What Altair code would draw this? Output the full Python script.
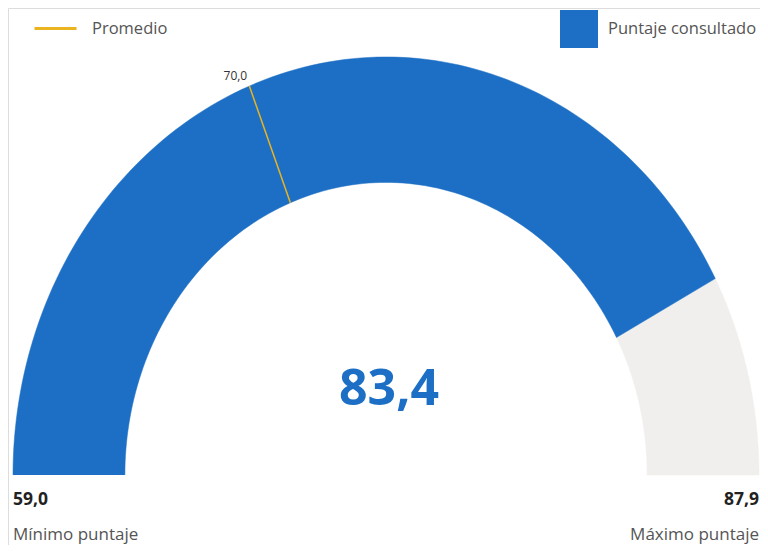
import altair as alt
import pandas as pd

# ---- data ----
MIN_VAL = 59.0
MAX_VAL = 87.9
SCORE = 83.4
AVERAGE = 70.0
SEGMENT_NAMES = ["Puntaje consultado", "Resto"]
SEGMENT_START = [MIN_VAL, SCORE]
SEGMENT_END = [SCORE, MAX_VAL]
AVG_NAME = "Promedio"
MIN_TEXT = "Mínimo puntaje"
MAX_TEXT = "Máximo puntaje"

# ---- style ----
BLUE = "#1C6FC4"
GREY = "#F0EFED"
GOLD = "#E9B420"
FONT = "Open Sans"
INNER = 0.70
N = 120  # steps along each arc edge

def fmt(v):
    return f"{v:.1f}".replace(".", ",")

rows = []
for name, s, e in zip(SEGMENT_NAMES, SEGMENT_START, SEGMENT_END):
    for k in range(2 * N + 2):
        rows.append({"seg": name, "start": s, "end": e, "k": k})
band = pd.DataFrame(rows)

needle = pd.DataFrame({"name": [AVG_NAME, AVG_NAME], "v": [AVERAGE, AVERAGE], "edge": [0, 1]})

XDOM = [-1.0134, 1.00268]
YDOM = [-0.1675, 1.1172]
xs = alt.Scale(domain=XDOM, nice=False, zero=False)
ys = alt.Scale(domain=YDOM, nice=False, zero=False)

ang_expr = f"PI * (1 - (datum.v - {MIN_VAL}) / ({MAX_VAL} - {MIN_VAL}))"

band_base = alt.Chart(band).transform_calculate(
    t=f"datum.k <= {N} ? datum.k / {N} : ({2 * N + 1} - datum.k) / {N}",
    r=f"datum.k <= {N} ? 1 : {INNER}",
).transform_calculate(
    v="datum.start + (datum.end - datum.start) * datum.t"
).transform_calculate(
    ang=ang_expr
).transform_calculate(
    px="datum.r * cos(datum.ang)", py="datum.r * sin(datum.ang)"
)

grey_band = band_base.transform_filter(alt.datum.seg == SEGMENT_NAMES[1]).mark_line(
    filled=True, strokeWidth=0.5
).encode(
    x=alt.X("px:Q", scale=xs, axis=None),
    y=alt.Y("py:Q", scale=ys, axis=None),
    order="k:Q",
    fill=alt.value(GREY),
    stroke=alt.value(GREY),
)

blue_band = band_base.transform_filter(alt.datum.seg == SEGMENT_NAMES[0]).mark_line(
    filled=True, strokeWidth=0.5
).encode(
    x=alt.X("px:Q", scale=xs, axis=None),
    y=alt.Y("py:Q", scale=ys, axis=None),
    order="k:Q",
    fill=alt.Fill(
        "seg:N",
        scale=alt.Scale(domain=[SEGMENT_NAMES[0]], range=[BLUE]),
        legend=alt.Legend(
            title=None, orient="none", legendX=552, legendY=2, padding=0,
            symbolType="square", symbolSize=1444, symbolStrokeWidth=0,
            labelFont=FONT, labelFontSize=16.5, labelColor="#555555", labelOffset=10,
        ),
    ),
    stroke=alt.value(BLUE),
)

needle_base = alt.Chart(needle).transform_calculate(
    ang=ang_expr
).transform_calculate(
    r=f"datum.edge == 1 ? 1 : {INNER}"
).transform_calculate(
    px="datum.r * cos(datum.ang)", py="datum.r * sin(datum.ang)"
)

needle_line = needle_base.mark_line(strokeWidth=1.5).encode(
    x=alt.X("px:Q", scale=xs, axis=None),
    y=alt.Y("py:Q", scale=ys, axis=None),
    order="edge:Q",
    stroke=alt.Stroke(
        "name:N",
        scale=alt.Scale(domain=[AVG_NAME], range=[GOLD]),
        legend=alt.Legend(
            title=None, orient="none", legendX=25, legendY=-2, padding=0,
            symbolType="stroke", symbolSize=1764, symbolStrokeWidth=3,
            labelFont=FONT, labelFontSize=16.5, labelColor="#555555", labelOffset=14,
        ),
    ),
)

needle_label = needle_base.transform_filter(alt.datum.edge == 1).mark_text(
    font=FONT, fontSize=12, color="#333333", align="center", dx=-14, dy=-10
).encode(
    x=alt.X("px:Q", scale=xs, axis=None),
    y=alt.Y("py:Q", scale=ys, axis=None),
    text=alt.value(fmt(AVERAGE)),
)

score_text = alt.Chart(pd.DataFrame({"v": [SCORE]})).mark_text(
    font=FONT, fontSize=50, fontWeight="bold", color=BLUE, align="center", baseline="alphabetic"
).encode(x=alt.value(381), y=alt.value(397), text=alt.value(fmt(SCORE)))

min_val = alt.Chart(pd.DataFrame({"v": [MIN_VAL]})).mark_text(
    font=FONT, fontSize=17.5, fontWeight="bold", color="#222222", align="left", baseline="alphabetic"
).encode(x=alt.value(5), y=alt.value(497), text=alt.value(fmt(MIN_VAL)))

max_val = alt.Chart(pd.DataFrame({"v": [MAX_VAL]})).mark_text(
    font=FONT, fontSize=17.5, fontWeight="bold", color="#222222", align="right", baseline="alphabetic"
).encode(x=alt.value(751), y=alt.value(497), text=alt.value(fmt(MAX_VAL)))

min_lab = alt.Chart(pd.DataFrame({"t": [MIN_TEXT]})).mark_text(
    font=FONT, fontSize=17, color="#555555", align="left", baseline="alphabetic"
).encode(x=alt.value(5), y=alt.value(532), text="t:N")

max_lab = alt.Chart(pd.DataFrame({"t": [MAX_TEXT]})).mark_text(
    font=FONT, fontSize=17, color="#555555", align="right", baseline="alphabetic"
).encode(x=alt.value(751), y=alt.value(532), text="t:N")

chart = alt.layer(
    grey_band, blue_band, needle_line, needle_label, score_text,
    min_val, max_val, min_lab, max_lab,
).resolve_scale(fill="independent", stroke="independent").properties(
    width=752, height=537, padding=0,
    autosize=alt.AutoSizeParams(type="none"),
).configure_view(stroke="transparent", strokeWidth=0).configure(background="white")

chart.save("out.html", embed_options={"renderer": "svg", "actions": False})
